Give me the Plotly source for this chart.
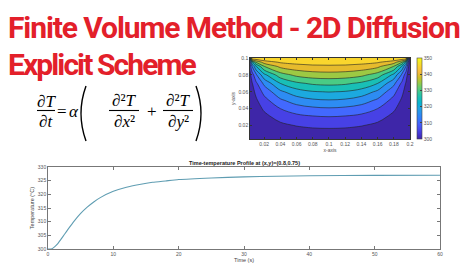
import plotly.graph_objects as go

W, H = 474, 266


def px(x):
    return x / W


def py(y):
    return 1 - y / H


# ---------------- data ----------------
grid_x = [0, 0.005, 0.01, 0.02, 0.04, 0.06, 0.08, 0.10, 0.12, 0.14, 0.16, 0.18, 0.19, 0.195, 0.2]
grid_y = [0, 0.01, 0.02, 0.03, 0.04, 0.05, 0.06, 0.07, 0.08, 0.09, 0.095, 0.1]
temperature_field = [
    [300, 300, 300, 300, 300, 300, 300, 300, 300, 300, 300, 300, 300, 300, 300],
    [300, 300.3, 300.5, 301.1, 301.9, 302.5, 302.8, 302.9, 302.8, 302.5, 301.9, 301.1, 300.5, 300.3, 300],
    [300, 300.6, 301.1, 302.2, 304.0, 305.2, 305.9, 306.1, 305.9, 305.2, 304.0, 302.2, 301.1, 300.6, 300],
    [300, 301.0, 301.9, 303.7, 306.6, 308.5, 309.4, 309.8, 309.4, 308.5, 306.6, 303.7, 301.9, 301.0, 300],
    [300, 301.5, 303.0, 305.7, 310.0, 312.7, 314.0, 314.5, 314.0, 312.7, 310.0, 305.7, 303.0, 301.5, 300],
    [300, 302.2, 304.3, 308.3, 314.2, 317.6, 319.3, 319.8, 319.3, 317.6, 314.2, 308.3, 304.3, 302.2, 300],
    [300, 303.1, 306.2, 311.6, 319.0, 322.9, 324.7, 325.2, 324.7, 322.9, 319.0, 311.6, 306.2, 303.1, 300],
    [300, 304.6, 309.0, 316.3, 325.1, 329.1, 330.8, 331.3, 330.8, 329.1, 325.1, 316.3, 309.0, 304.6, 300],
    [300, 307.4, 314.1, 323.7, 332.8, 336.2, 337.6, 338.0, 337.6, 336.2, 332.8, 323.7, 314.1, 307.4, 300],
    [300, 314.8, 324.5, 334.8, 341.2, 343.2, 344.0, 344.2, 344.0, 343.2, 341.2, 334.8, 324.5, 314.8, 300],
    [300, 325.0, 335.3, 342.2, 345.5, 346.5, 347.0, 347.0, 347.0, 346.5, 345.5, 342.2, 335.3, 325.0, 300],
    [300, 350, 350, 350, 350, 350, 350, 350, 350, 350, 350, 350, 350, 350, 300],
]
contour_xtick_vals = [0.02, 0.04, 0.06, 0.08, 0.1, 0.12, 0.14, 0.16, 0.18, 0.2]
contour_xtick_text = ["0.02", "0.04", "0.06", "0.08", "0.1", "0.12", "0.14", "0.16", "0.18", "0.2"]
contour_ytick_vals = [0.02, 0.04, 0.06, 0.08, 0.1]
contour_ytick_text = ["0.02", "0.04", "0.06", "0.08", "0.1"]
colorbar_ticks = [300, 310, 320, 330, 340, 350]

time_s = [0, 0.5, 1, 1.5, 2, 2.5, 3, 4, 5, 6, 7, 8, 10, 12, 14, 16, 18, 20, 25, 30, 35, 40, 50, 60]
temp_c = [300, 300, 300.8, 302.0, 303.6, 305.3, 307.0, 310.2, 313.0, 315.3, 317.2, 318.8, 321.1,
          322.6, 323.6, 324.4, 324.9, 325.4, 326.0, 326.4, 326.6, 326.8, 326.95, 327.0]

# ---------------- styles ----------------
parula = [
    (0.2422, 0.1504, 0.6603), (0.2706, 0.2147, 0.8364), (0.2813, 0.3006, 0.9414),
    (0.2699, 0.3892, 0.9906), (0.1963, 0.4847, 0.9892), (0.1687, 0.5703, 0.9359),
    (0.1248, 0.6459, 0.8883), (0.0297, 0.7082, 0.8163), (0.0964, 0.7500, 0.7120),
    (0.2161, 0.7843, 0.5923), (0.3909, 0.8029, 0.4354), (0.6174, 0.7876, 0.2612),
    (0.8203, 0.7498, 0.1535), (0.9728, 0.7298, 0.2394), (0.9892, 0.8136, 0.1885),
    (0.9597, 0.9135, 0.1423), (0.9769, 0.9839, 0.0805),
]
parula_pos = [0, 4, 8, 12, 16, 20, 24, 28, 32, 36, 40, 44, 48, 52, 56, 60, 63]


def rgb(c):
    return "rgb(%d,%d,%d)" % tuple(round(v * 255) for v in c)


parula_scale = [[p / 63, rgb(c)] for p, c in zip(parula_pos, parula)]

band_colors = [
    (0.2422, 0.1504, 0.6603), (0.2783, 0.2559, 0.8991), (0.2602, 0.4123, 0.9952),
    (0.1764, 0.5499, 0.9520), (0.1113, 0.6635, 0.8763), (0.0964, 0.7500, 0.7120),
    (0.2906, 0.7973, 0.5188), (0.6174, 0.7876, 0.2612), (0.9035, 0.7330, 0.1774),
    (0.9786, 0.8386, 0.1766),
]
band_scale = []
for k, c in enumerate(band_colors):
    lo = 0 if k == 0 else (k - 0.5) / 9
    hi = 1 if k == 9 else (k + 0.5) / 9
    band_scale += [[lo, rgb(c)], [hi, rgb(c)]]

tick_font = dict(family="Liberation Sans, Arial, sans-serif", size=5, color="#555")

fig = go.Figure()

fig.add_trace(go.Contour(
    x=grid_x, y=grid_y, z=temperature_field,
    autocontour=False,
    contours=dict(start=305, end=345, size=5, coloring="fill"),
    colorscale=band_scale, showscale=False,
    line=dict(color="#222", width=0.6, smoothing=1.0),
    xaxis="x", yaxis="y", hoverinfo="skip",
))

# colour bar only (no visible marks)
fig.add_trace(go.Scatter(
    x=[None], y=[None], mode="markers", xaxis="x", yaxis="y", showlegend=False,
    hoverinfo="skip",
    marker=dict(color=[300], cmin=300, cmax=350, colorscale=parula_scale, showscale=True,
                colorbar=dict(x=px(417), xanchor="left", y=py(98.5), yanchor="middle",
                              len=81 / H, lenmode="fraction", thickness=5, thicknessmode="pixels",
                              tickvals=colorbar_ticks, ticks="inside", ticklen=2, tickcolor="#444",
                              tickfont=tick_font, outlinewidth=0.6, outlinecolor="#444",
                              xpad=0, ypad=0)),
))

fig.add_trace(go.Scatter(
    x=time_s, y=temp_c, mode="lines", xaxis="x2", yaxis="y2", showlegend=False,
    line=dict(color="#5f9db2", width=1.1, shape="spline", smoothing=0.5),
    hoverinfo="skip",
))

ax_common = dict(showgrid=False, zeroline=False, showline=True, linewidth=0.6,
                 ticks="inside", mirror="ticks", tickfont=tick_font, automargin=False)

fig.update_layout(
    width=W, height=H, margin=dict(l=0, r=0, t=0, b=0),
    paper_bgcolor="white", plot_bgcolor="white", showlegend=False,
    xaxis=dict(domain=[px(250), px(410)], range=[0.0025, 0.2], tickvals=contour_xtick_vals,
               ticktext=contour_xtick_text, linecolor="#333", tickcolor="#333", ticklen=2,
               title=dict(text="x-axis", font=dict(family="Liberation Sans", size=5, color="#555"),
                          standoff=2), anchor="y", **ax_common),
    yaxis=dict(domain=[py(139), py(58)], range=[0.004, 0.1], tickvals=contour_ytick_vals,
               ticktext=contour_ytick_text, linecolor="#333", tickcolor="#333", ticklen=2,
               title=dict(text="y-axis", font=dict(family="Liberation Sans", size=5, color="#555"),
                          standoff=2), anchor="x", **ax_common),
    xaxis2=dict(domain=[px(48), px(440)], range=[0, 60], dtick=10, tick0=0,
                linecolor="#777", tickcolor="#777", ticklen=3,
                title=dict(text="Time (s)", font=dict(family="Liberation Sans", size=5.5, color="#444"),
                           standoff=1), anchor="y2", **ax_common),
    yaxis2=dict(domain=[py(249), py(167)], range=[300, 330], dtick=5, tick0=300,
                linecolor="#777", tickcolor="#777", ticklen=3,
                title=dict(text="Temperature (°C)", font=dict(family="Liberation Sans", size=5.5, color="#444"),
                           standoff=2), anchor="x2", **ax_common),
)

red = "#e3202a"
title_font = dict(family="Roboto, Liberation Sans, sans-serif", size=30, color=red)
annotations = [
    dict(text="<b><span style='letter-spacing:-1.1px'>Finite Volume Method - 2D Diffusion</span></b>",
         x=px(6), y=py(27.5), xanchor="left", yanchor="middle", font=title_font),
    dict(text="<b><span style='letter-spacing:-1.9px'>Explicit Scheme</span></b>",
         x=px(6), y=py(64.5), xanchor="left", yanchor="middle", font=title_font),
    dict(text="<b>Time-temperature Profile at (x,y)=(0.8,0.75)</b>", x=px(244), y=py(163),
         xanchor="center", yanchor="middle",
         font=dict(family="Liberation Sans", size=5.5, color="#222")),
]

eq_font = dict(family="Liberation Serif, DejaVu Serif, serif", size=17, color="black")
eq_items = [
    ("∂<i>T</i>", 46, 101), ("∂<i>t</i>", 46, 121), ("=", 62, 111), ("<i>α</i>", 73.5, 111),
    ("∂²<i>T</i>", 124, 100), ("∂<i>x</i>²", 124, 121), ("+", 152, 111),
    ("∂²<i>T</i>", 178, 100), ("∂<i>y</i>²", 178, 121),
]
for txt, xx, yy in eq_items:
    annotations.append(dict(text=txt, x=px(xx), y=py(yy), xanchor="center", yanchor="middle",
                            font=eq_font))

for a in annotations:
    a.update(xref="paper", yref="paper", showarrow=False)
fig.update_layout(annotations=annotations)

shapes = []
for x0, x1 in [(37, 55), (109, 139), (163, 193)]:
    shapes.append(dict(type="line", xref="paper", yref="paper", x0=px(x0), x1=px(x1),
                       y0=py(110.5), y1=py(110.5), line=dict(color="black", width=1.1)))


def paren(xe, xc):
    return "M %f,%f Q %f,%f %f,%f" % (px(xe), py(86), px(xc), py(113.5), px(xe), py(141))


shapes.append(dict(type="path", xref="paper", yref="paper", path=paren(86, 76),
                   line=dict(color="black", width=1.4)))
shapes.append(dict(type="path", xref="paper", yref="paper", path=paren(196, 206),
                   line=dict(color="black", width=1.4)))
fig.update_layout(shapes=shapes)

fig.write_html("out.html", config={"displayModeBar": False})
